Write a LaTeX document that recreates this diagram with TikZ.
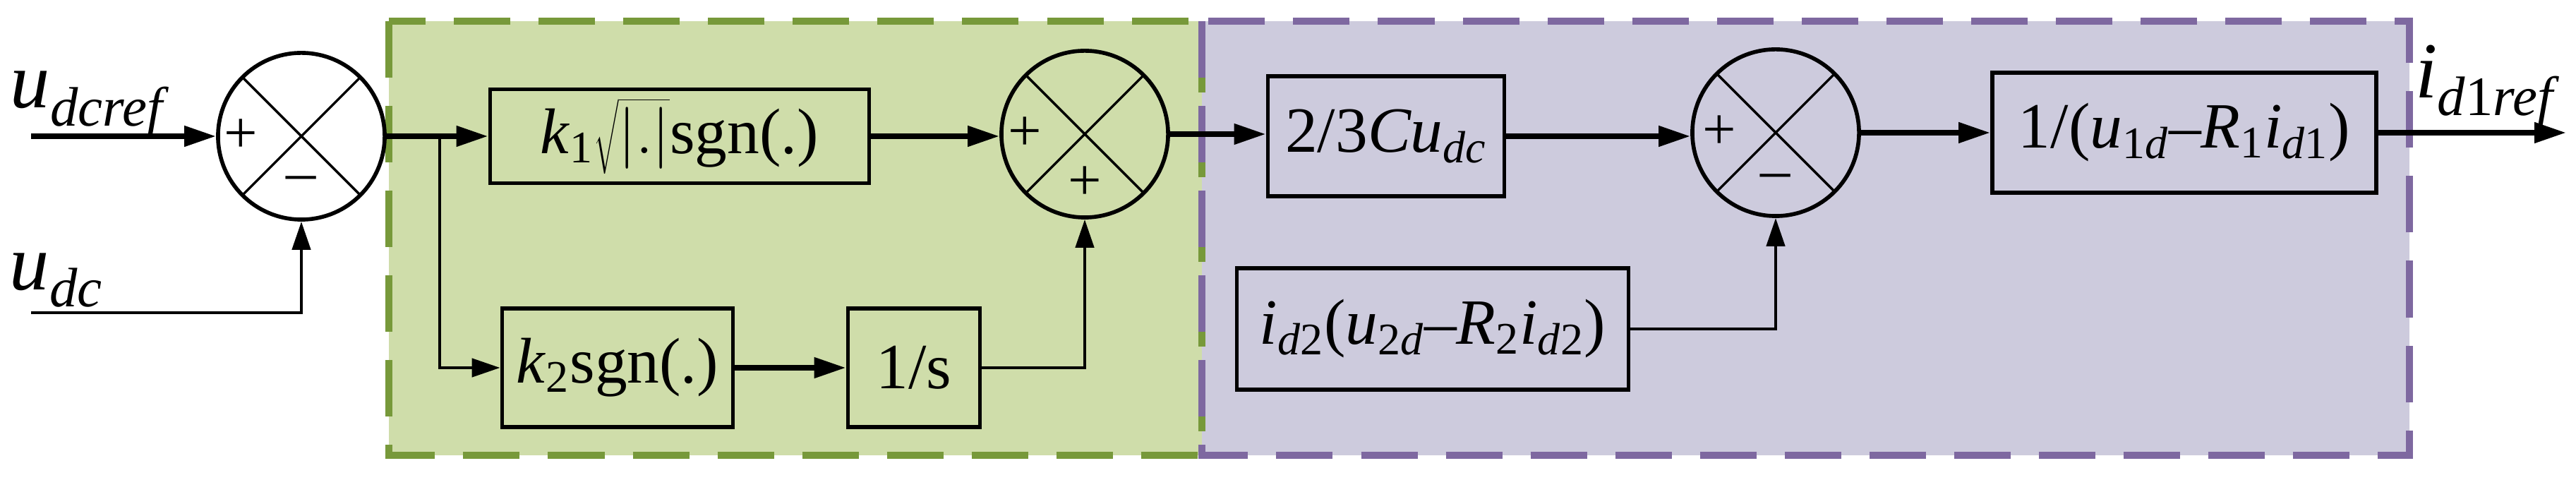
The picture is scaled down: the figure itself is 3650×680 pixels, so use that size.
\documentclass[tikz,border=0pt]{standalone}
\usepackage{fontspec}
\setmainfont{Liberation Serif}
\usetikzlibrary{arrows.meta}
\definecolor{gfill}{HTML}{CFDDAA}
\definecolor{gline}{HTML}{77993A}
\definecolor{pfill}{HTML}{CDCBDD}
\definecolor{pline}{HTML}{7E68A0}
\begin{document}
\begin{tikzpicture}[x=0.01cm,y=-0.01cm,
  blk/.style={draw,line width=1.6pt,inner sep=0pt,font=\fontsize{26}{30}\selectfont},
  sum/.style={draw,circle,line width=1.6pt,minimum size=2.36cm,inner sep=0pt,
    path picture={\draw[line width=1pt] (path picture bounding box.north west)--(path picture bounding box.south east)
      (path picture bounding box.north east)--(path picture bounding box.south west);}},
  sg/.style={font=\fontsize{24}{24}\selectfont},
  lab/.style={font=\fontsize{32}{36}\selectfont},
  main/.style={line width=2.2pt,-{Triangle[length=0.45cm,width=0.28cm]}},
  thin/.style={line width=1.3pt,-{Triangle[length=0.4cm,width=0.26cm]}},
  zone/.style={line width=2.6pt,dash pattern=on 0.8cm off 0.4cm}]
\useasboundingbox (0,0) rectangle (3650,680);
\fill[gfill] (551,30) rectangle (1703,645);
\fill[pfill] (1703,30) rectangle (3414,645);
\draw[zone,gline] (551,30) rectangle (1703,645);
\draw[zone,pline] (1703,30) rectangle (3414,645);

\node[sum] (s1) at (427,193) {};
\node[sum] (s2) at (1537,190) {};
\node[sum] (s3) at (2516,188) {};
\node[sg] at ([xshift=-0.86cm]s1.center) {+};
\node[sg] at ([yshift=-0.68cm]s1.center) {–};
\node[sg] at ([xshift=-0.85cm]s2.center) {+};
\node[sg] at ([yshift=-0.7cm]s2.center) {+};
\node[sg] at ([xshift=-0.8cm]s3.center) {+};
\node[sg] at ([yshift=-0.7cm]s3.center) {–};

\node[blk,minimum width=5.37cm,minimum height=1.33cm] (b1) at (963,193) {\textit{k}\textsubscript{1}$\sqrt{|.|}$sgn(.)};
\node[blk,minimum width=3.27cm,minimum height=1.68cm] (b2) at (875,521) {\textit{k}\textsubscript{2}sgn(.)};
\node[blk,minimum width=1.87cm,minimum height=1.68cm] (b3) at (1295,521) {1/s};
\node[blk,minimum width=3.35cm,minimum height=1.70cm] (b4) at (1964,193) {2/3\textit{Cu}\textsubscript{\textit{dc}}};
\node[blk,minimum width=5.44cm,minimum height=1.70cm] (b5) at (3095,188) {1/(\textit{u}\textsubscript{1\textit{d}}–\textit{R}\textsubscript{1}\textit{i}\textsubscript{\textit{d}1})};
\node[blk,minimum width=5.55cm,minimum height=1.72cm] (b6) at (2030,466) {\textit{i}\textsubscript{\textit{d}2}(\textit{u}\textsubscript{2\textit{d}}–\textit{R}\textsubscript{2}\textit{i}\textsubscript{\textit{d}2})};

\coordinate (in1) at (44,193);
\coordinate (in2) at (44,443);
\coordinate (sp) at (623,193);
\coordinate (out) at (3636,188);

\draw[main] (in1) -- (s1.west);
\draw[thin] (in2) -| (s1.south);
\draw[main] (s1.east) -- (b1.west);
\draw[thin] (sp) |- (b2.west);
\draw[main] (b1.east) -- (b1.east -| s2.west);
\draw[main] (b2.east) -- (b3.west);
\draw[thin] (b3.east) -| (s2.south);
\draw[main] (s2.east) -- (s2.east -| b4.west);
\draw[main] (b4.east) -- (b4.east -| s3.west);
\draw[thin] (b6.east) -| (s3.south);
\draw[main] (s3.east) -- (b5.west);
\draw[main] (b5.east) -- (out);

\node[lab] (l1) at (128,148) {\textit{u}\textsubscript{\textit{dcref}}};
\node[lab] (l2) at (80,397) {\textit{u}\textsubscript{\textit{dc}}};
\node[lab] (l3) at (3525,122) {\textit{i}\textsubscript{\textit{d}1\textit{ref}}};
\end{tikzpicture}
\end{document}
